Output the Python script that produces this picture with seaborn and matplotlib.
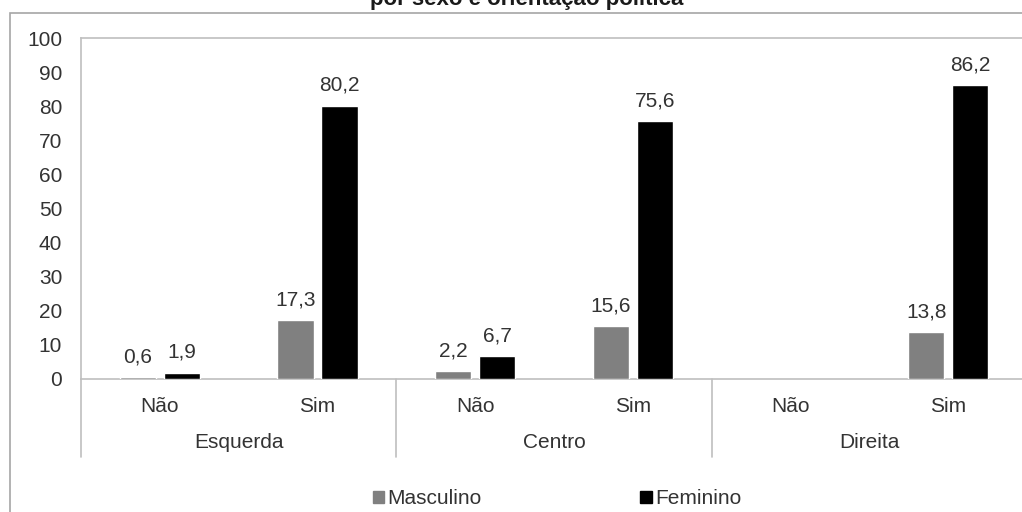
import numpy as np
import pandas as pd
import seaborn as sns
import matplotlib.pyplot as plt
from matplotlib.patches import Rectangle
from matplotlib import transforms

# ---- data ----
groups = ["Esquerda", "Centro", "Direita"]
answers = ["Não", "Sim"]
series = ["Masculino", "Feminino"]
masculino = [0.6, 17.3, 2.2, 15.6, np.nan, 13.8]
feminino = [1.9, 80.2, 6.7, 75.6, np.nan, 86.2]
yticks = list(range(0, 101, 10))
title = "por sexo e orientação política"
colors = {"Masculino": "#808080", "Feminino": "#000000"}

cats = [f"{g}|{a}" for g in groups for a in answers]
df = pd.DataFrame({
    "cat": cats * 2,
    "sexo": [series[0]] * len(cats) + [series[1]] * len(cats),
    "valor": masculino + feminino,
})

sns.set_theme(style="white")
plt.rcParams['font.family'] = ['Liberation Sans', 'DejaVu Sans']
FS = 15
TXT = "#333333"
GRID = "#BFBFBF"

W, H = 1022, 512
fig = plt.figure(figsize=(W / 100, H / 100), dpi=100)
ax = fig.add_axes([81 / W, 1 - 379 / H, 946 / W, 341 / H])

sns.barplot(data=df.dropna(), x="cat", y="valor", hue="sexo", order=cats,
            hue_order=series, palette=colors, width=0.558, gap=0.18,
            saturation=1, errorbar=None, legend=False, ax=ax, zorder=3)

ax.set_xlim(-0.5, len(cats) - 0.5)
ax.set_ylim(0, 100)
ax.set_yticks(yticks)
ax.set_yticklabels([str(t) for t in yticks], fontsize=FS, color=TXT)
ax.tick_params(axis="y", length=0, pad=13.5)
ax.set_xticks([])
ax.set_xlabel("")
ax.set_ylabel("")
for s in ["left", "top", "bottom", "right"]:
    ax.spines[s].set_visible(True)
    ax.spines[s].set_color(GRID)
    ax.spines[s].set_linewidth(1.2)
    ax.spines[s].set_zorder(1)

# value labels
for cont, vals in zip(ax.containers, [masculino, feminino]):
    vv = [v for v in vals if not np.isnan(v)]
    for bar, v in zip(cont, vv):
        x = bar.get_x() + bar.get_width() / 2
        ax.annotate(f"{v:.1f}".replace(".", ","), (x, v), xytext=(0, 10.5),
                    textcoords="offset points", ha="center", va="baseline",
                    fontsize=FS, color=TXT)

# category axis (two levels)
bt = transforms.blended_transform_factory(ax.transData, fig.transFigure)
for i, c in enumerate(cats):
    ax.text(i, 1 - 407 / H, c.split("|")[1], transform=bt, ha="center",
            va="center", fontsize=FS, color=TXT)
for gi, g in enumerate(groups):
    ax.text(gi * 2 + 0.5, 1 - 442 / H, g, transform=bt, ha="center",
            va="center", fontsize=FS, color=TXT)
for gi in range(len(groups) + 1):
    ax.plot([gi * 2 - 0.5] * 2, [1 - 379 / H, 1 - 457 / H], transform=bt,
            color=GRID, lw=1.2, clip_on=False)

# legend
handles = [Rectangle((0, 0), 1, 1, color=colors[s]) for s in series]
fig.legend(handles, series, loc="center", bbox_to_anchor=(557 / W, 1 - 499 / H),
           ncol=2, frameon=False, handlelength=0.55, handleheight=0.55,
           handletextpad=0.15, columnspacing=7.6, fontsize=FS,
           labelcolor=TXT, borderpad=0, borderaxespad=0)

# outer chart border and (cropped) title
fig.patches.append(Rectangle((10 / W, -0.2), 1.5, 1.2 - 13 / H,
                             transform=fig.transFigure, fill=False,
                             edgecolor="#A6A6A6", lw=1.2))
fig.text(527 / W, 1 - 5 / H, title, ha="center", va="baseline",
         fontsize=16, fontweight="bold", color="#1a1a1a")

fig.savefig("out.png", dpi=100)
